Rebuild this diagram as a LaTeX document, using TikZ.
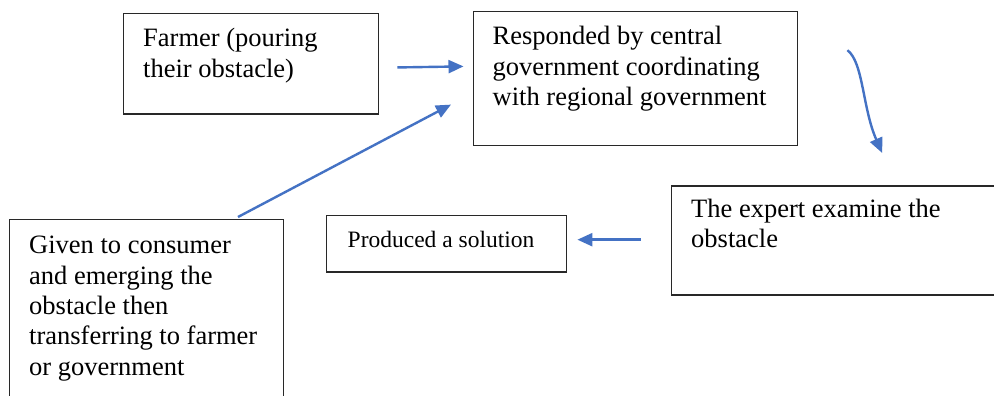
\documentclass[tikz,border=0pt]{standalone}
\usepackage{fontspec}
\setmainfont{Liberation Serif}
\usetikzlibrary{calc,arrows.meta}
\definecolor{arrowblue}{RGB}{68,114,196}
\definecolor{boxline}{RGB}{40,40,40}
\tikzset{
  box/.style={draw=boxline, line width=1.4pt, rectangle, inner sep=0pt, anchor=north west, fill=white},
  txt/.style={anchor=base west, inner sep=0pt, align=left, font=\fontsize{26.5}{30.3}\selectfont},
  smalltxt/.style={anchor=base west, inner sep=0pt, align=left, font=\fontsize{23.5}{28}\selectfont},
  flow/.style={draw=arrowblue, line width=2.4pt, -{Triangle[length=15pt,width=13pt]}}
}
\begin{document}
\begin{tikzpicture}[x=1pt,y=1pt]
\useasboundingbox (0,0) rectangle (994,396);
\clip (0,0) rectangle (994,396);
\fill[white] (0,0) rectangle (994,396);
% boxes
\node[box, minimum width=255pt, minimum height=100.5pt] (farmer) at (123,383) {};
\node[box, minimum width=324pt, minimum height=134pt] (resp) at (472.5,385.3) {};
\node[box, minimum width=340pt, minimum height=109pt] (expert) at (670.5,210.5) {};
\node[box, minimum width=240pt, minimum height=56.5pt] (prod) at (326,181) {};
\node[box, minimum width=274pt, minimum height=200pt] (given) at (8.5,177) {};
% texts (anchor base = baseline of last line)
\node[txt] (farmerT) at ($(farmer.north west)+(20,-64.3)$) {Farmer (pouring\\their obstacle)};
\node[txt] (respT) at ($(resp.north west)+(20,-94.9)$) {Responded by central\\government coordinating\\with regional government};
\node[txt] (expertT) at ($(expert.north west)+(20.5,-62.5)$) {The expert examine the\\obstacle};
\node[smalltxt] (prodT) at ($(prod.north west)+(21.5,-33)$) {Produced a solution};
\node[txt] (givenT) at ($(given.north west)+(20.5,-156.2)$) {Given to consumer\\and emerging the\\obstacle then\\transferring to farmer\\or government};
% connectors
\coordinate (a1s) at ($(farmer.east)+(18,-3.5)$);
\coordinate (a1e) at ($(resp.west)+(-9,12)$);
\draw[flow] (a1s) -- (a1e);
\coordinate (a2s) at ($(resp.north east)+(49.5,-39.5)$);
\coordinate (a2e) at ($(expert.north)+(41,32.5)$);
\draw[flow] (a2s) .. controls ($(a2s)+(16,-12)$) and ($(a2s)+(15,-58)$) .. (a2e);
\coordinate (a3s) at ($(expert.west)+(-30,1)$);
\coordinate (a3e) at ($(prod.east)+(10,4.25)$);
\draw[flow] (a3s) -- (a3e);
\coordinate (a4s) at ($(given.north west)+(229.5,2)$);
\coordinate (a4e) at ($(resp.south west)+(-21.5,41.5)$);
\draw[flow] (a4s) -- (a4e);
\end{tikzpicture}
\end{document}
